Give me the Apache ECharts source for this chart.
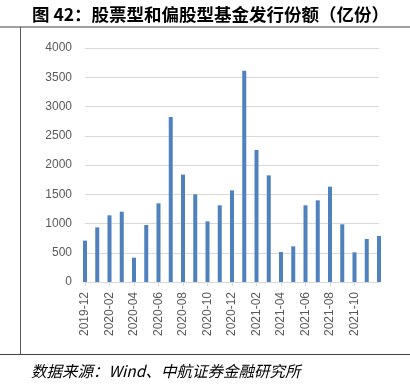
<!DOCTYPE html>
<html>
<head>
<meta charset="utf-8">
<script src="https://cdn.jsdelivr.net/npm/echarts@6/dist/echarts.min.js"></script>
<style>
  html, body { margin: 0; padding: 0; background: #fff; }
  #chart { width: 410px; height: 392px; }
</style>
</head>
<body>
<div id="chart"></div>
<script>
// monthly issuance, 亿份
const months = [
  '2019-12', '2020-01', '2020-02', '2020-03', '2020-04', '2020-05', '2020-06',
  '2020-07', '2020-08', '2020-09', '2020-10', '2020-11', '2020-12',
  '2021-01', '2021-02', '2021-03', '2021-04', '2021-05', '2021-06',
  '2021-07', '2021-08', '2021-09', '2021-10', '2021-11', '2021-12'
];
const issuance = [
  707, 934, 1140, 1202, 416, 974, 1345, 2821, 1835, 1499, 1037, 1311, 1567,
  3613, 2256, 1823, 513, 610, 1311, 1396, 1630, 986, 507, 735, 786
];
const yTicks = [0, 500, 1000, 1500, 2000, 2500, 3000, 3500, 4000];

const chart = echarts.init(document.getElementById('chart'));

const option = {
  animation: false,
  title: [
    {
      text: '图 42：股票型和偏股型基金发行份额（亿份）',
      left: 27,
      top: 1,
      textStyle: {
        fontFamily: 'Noto Sans CJK SC',
        fontWeight: 'bold',
        fontSize: 17.5,
        color: '#000'
      }
    },
    {
      text: '数据来源：Wind、中航证券金融研究所',
      left: 26,
      top: 358,
      textStyle: {
        fontFamily: 'Noto Sans CJK SC',
        fontStyle: 'italic',
        fontWeight: 'normal',
        fontSize: 15.5,
        color: '#000'
      }
    }
  ],
  graphic: [
    { type: 'line', shape: { x1: 0, y1: 27, x2: 410, y2: 27 }, style: { stroke: '#404040', lineWidth: 1 } },
    { type: 'line', shape: { x1: 0, y1: 354.5, x2: 410, y2: 354.5 }, style: { stroke: '#404040', lineWidth: 1 } },
    { type: 'line', shape: { x1: 20.5, y1: 27, x2: 20.5, y2: 354.5 }, style: { stroke: '#595959', lineWidth: 1 } }
  ],
  grid: {
    left: 85,
    right: 31,
    top: 48,
    bottom: 110
  },
  xAxis: {
    type: 'category',
    data: months,
    boundaryGap: false,
    axisLine: { lineStyle: { color: '#d9d9d9' } },
    axisTick: {
      show: true,
      length: 4,
      interval: (i) => i % 2 === 0 && i < 24,
      lineStyle: { color: '#d9d9d9' }
    },
    axisLabel: {
      rotate: 90,
      interval: (i) => i % 2 === 0 && i < 24,
      color: '#595959',
      fontFamily: 'Liberation Sans',
      fontSize: 12,
      margin: 10
    }
  },
  yAxis: {
    type: 'value',
    min: yTicks[0],
    max: yTicks[yTicks.length - 1],
    interval: 500,
    axisLine: { show: false },
    axisTick: { show: false },
    axisLabel: {
      color: '#595959',
      fontFamily: 'Liberation Sans',
      fontSize: 12,
      margin: 13,
      formatter: (v) => String(v)
    },
    splitLine: { lineStyle: { color: '#d9d9d9' } }
  },
  series: [
    {
      type: 'bar',
      data: issuance,
      barWidth: 4,
      itemStyle: { color: '#4f81bd' }
    }
  ]
};

chart.setOption(option);
</script>
</body>
</html>
